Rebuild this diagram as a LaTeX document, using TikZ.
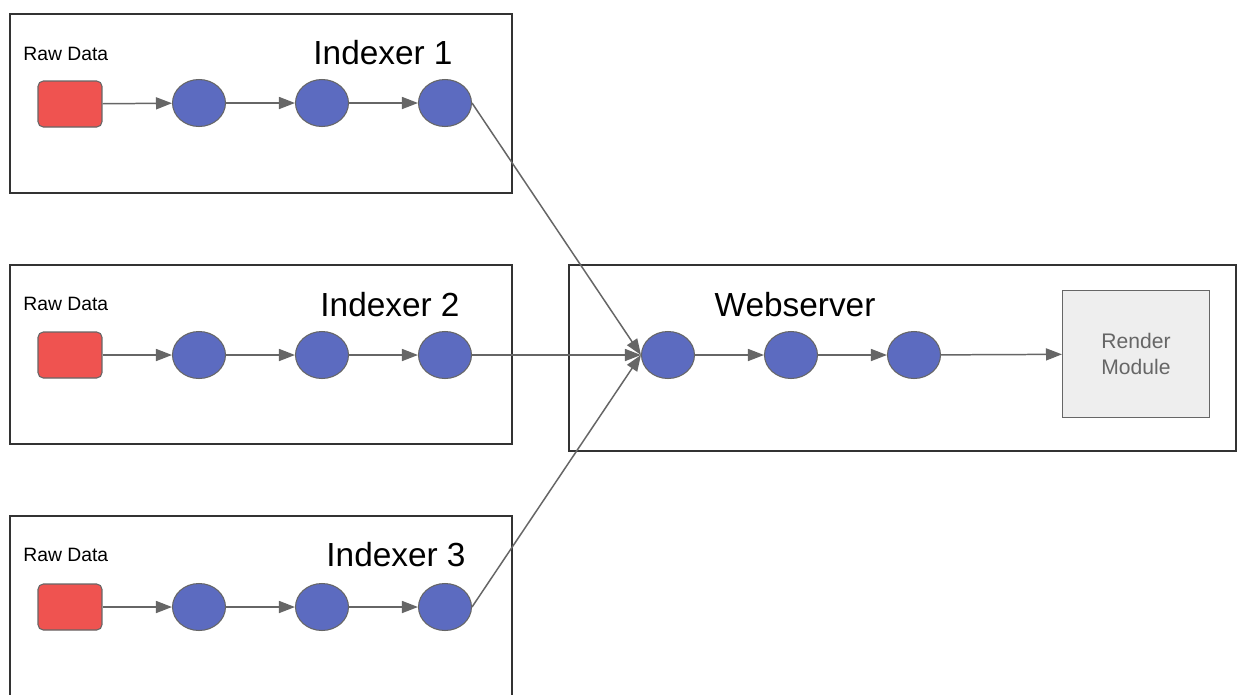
\documentclass[tikz,border=0pt]{standalone}
\usepackage{fontspec}
\setmainfont{Liberation Sans}
\usetikzlibrary{shapes.geometric,arrows.meta}
\definecolor{rawred}{HTML}{EF5350}
\definecolor{stepblue}{HTML}{5C6BC0}
\definecolor{edgegrey}{HTML}{666666}
\definecolor{rendergrey}{HTML}{EEEEEE}
\tikzset{
  stage/.style={ellipse, draw=edgegrey, fill=stepblue, line width=0.6pt,
    minimum width=1.06cm, minimum height=0.94cm, inner sep=0pt},
  rawbox/.style={rectangle, rounded corners=3pt, draw=edgegrey, fill=rawred,
    line width=0.6pt, minimum width=1.28cm, minimum height=0.92cm},
  group/.style={draw=black!80, line width=1.1pt},
  flow/.style={draw=edgegrey, line width=0.85pt,
    -{Triangle[length=0.32cm, width=0.24cm]}},
  rawlabel/.style={font=\fontsize{11}{13}\selectfont, anchor=west, inner sep=0pt},
  title/.style={font=\fontsize{19}{22}\selectfont}
}
\begin{document}
\begin{tikzpicture}[x=0.02cm, y=-0.02cm]
    \clip (0,0) rectangle (1238,694);
    \fill[white] (0,0) rectangle (1238,694);

    % indexer 1
    \draw[group] (10,14) rectangle (512,193);
    \node[rawlabel] (raw1) at (23,54) {Raw Data};
    \node[title] (idx1) at (383,53) {Indexer 1};
    \node[rawbox] (i1r) at (70,104) {};
    \node[stage] (i1a) at (199,103) {};
    \node[stage] (i1b) at (322,103) {};
    \node[stage] (i1c) at (445,103) {};
    \draw[flow] (i1r) -- (i1a);
    \draw[flow] (i1a) -- (i1b);
    \draw[flow] (i1b) -- (i1c);

    % indexer 2
    \draw[group] (10,265) rectangle (512,444);
    \node[rawlabel] (raw2) at (23,304) {Raw Data};
    \node[title] (idx2) at (390,305) {Indexer 2};
    \node[rawbox] (i2r) at (70,355) {};
    \node[stage] (i2a) at (199,355) {};
    \node[stage] (i2b) at (322,355) {};
    \node[stage] (i2c) at (445,355) {};
    \draw[flow] (i2r) -- (i2a);
    \draw[flow] (i2a) -- (i2b);
    \draw[flow] (i2b) -- (i2c);

    % indexer 3
    \draw[group] (10,720) -- (10,516) -- (512,516) -- (512,720);
    \node[rawlabel] (raw3) at (23,555) {Raw Data};
    \node[title] (idx3) at (396,555) {Indexer 3};
    \node[rawbox] (i3r) at (70,607) {};
    \node[stage] (i3a) at (199,607) {};
    \node[stage] (i3b) at (322,607) {};
    \node[stage] (i3c) at (445,607) {};
    \draw[flow] (i3r) -- (i3a);
    \draw[flow] (i3a) -- (i3b);
    \draw[flow] (i3b) -- (i3c);

    % webserver
    \draw[group] (569,265) rectangle (1236,451);
    \node[title] (web) at (795,305) {Webserver};
    \node[stage] (wa) at (668,355) {};
    \node[stage] (wb) at (791,355) {};
    \node[stage] (wc) at (914,355) {};
    \node[draw=edgegrey, fill=rendergrey, line width=0.6pt,
      minimum width=2.94cm, minimum height=2.54cm, text=edgegrey,
      align=center, font=\fontsize{12}{15}\selectfont] (render) at (1136,354)
      {Render\\Module};
    \draw[flow] (wa) -- (wb);
    \draw[flow] (wb) -- (wc);
    \draw[flow] (wc) -- (render);

    \draw[flow] (i1c.east) -- (wa.west);
    \draw[flow] (i2c.east) -- (wa.west);
    \draw[flow] (i3c.east) -- (wa.west);
  \end{tikzpicture}
\end{document}
